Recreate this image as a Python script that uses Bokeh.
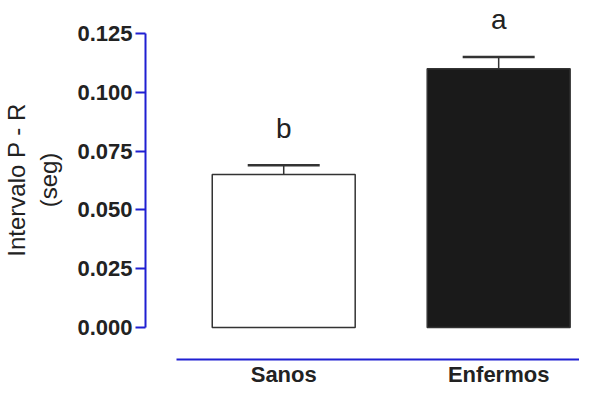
from bokeh.plotting import figure
from bokeh.models import Range1d, FixedTicker, PrintfTickFormatter, Whisker, TeeHead, ColumnDataSource
from bokeh.core.properties import value
from bokeh.embed import file_html
from bokeh.resources import INLINE

# ---- data ----
categories = ["Sanos", "Enfermos"]
positions = [1, 2]
means = [0.065, 0.110]
sem = [0.004, 0.005]
letters = ["b", "a"]
y_ticks = [0.0, 0.025, 0.05, 0.075, 0.1, 0.125]

upper = [m + s for m, s in zip(means, sem)]
src = ColumnDataSource(dict(x=positions, top=means, upper=upper, lower=means,
                            letter=letters, fill=["white", "#1a1a1a"]))

AX = "#1f1fd2"
FONT = "Liberation Sans"

p = figure(width=579, height=389, output_backend="svg", toolbar_location=None,
           x_range=Range1d(0.357, 2.376), y_range=Range1d(-0.0136, 0.1390),
           min_border_left=144, min_border_right=0, min_border_top=0, min_border_bottom=30)
p.outline_line_color = None
p.xgrid.visible = False
p.ygrid.visible = False
p.background_fill_color = "white"
p.border_fill_color = "white"

p.vbar(x="x", top="top", width=0.665, bottom=0, fill_color="fill",
       line_color="#333333", line_width=1.5, source=src)

w = Whisker(base="x", upper="upper", lower="lower", source=src,
            line_color="#333333", line_width=1.5,
            upper_head=TeeHead(size=72, line_color="#333333", line_width=2.5),
            lower_head=None)
p.add_layout(w)

p.text(x="x", y="upper", text="letter", source=src, text_align="center",
       text_baseline="alphabetic", y_offset=-37, text_font=value(FONT),
       text_font_size="28px", text_color="#222222")

# y axis
ya = p.yaxis[0]
ya.ticker = FixedTicker(ticks=y_ticks)
ya.formatter = PrintfTickFormatter(format="%.3f")
ya.bounds = (0, 0.125)
ya.axis_line_color = AX
ya.axis_line_width = 2
ya.major_tick_line_color = AX
ya.major_tick_line_width = 2
ya.major_tick_out = 10
ya.major_tick_in = 0
ya.minor_tick_line_color = None
ya.major_label_standoff = 3
ya.major_label_text_font = FONT
ya.major_label_text_font_style = "bold"
ya.major_label_text_font_size = "22px"
ya.major_label_text_color = "#222222"
ya.axis_label = "Intervalo P - R\n(seg)"
ya.axis_label_text_font = FONT
ya.axis_label_text_font_style = "normal"
ya.axis_label_text_font_size = "24px"
ya.axis_label_text_color = "#222222"
ya.axis_label_standoff = 12

# x axis
xa = p.xaxis[0]
xa.ticker = FixedTicker(ticks=positions)
xa.major_label_overrides = {pos: c for pos, c in zip(positions, categories)}
xa.bounds = (0.5, 2.376)
xa.axis_line_color = AX
xa.axis_line_width = 2
xa.major_tick_line_color = None
xa.major_tick_out = 0
xa.major_tick_in = 0
xa.minor_tick_line_color = None
xa.major_label_standoff = 2
xa.major_label_text_font = FONT
xa.major_label_text_font_style = "bold"
xa.major_label_text_font_size = "22px"
xa.major_label_text_color = "#222222"

open("out.html", "w").write(file_html(p, INLINE))
